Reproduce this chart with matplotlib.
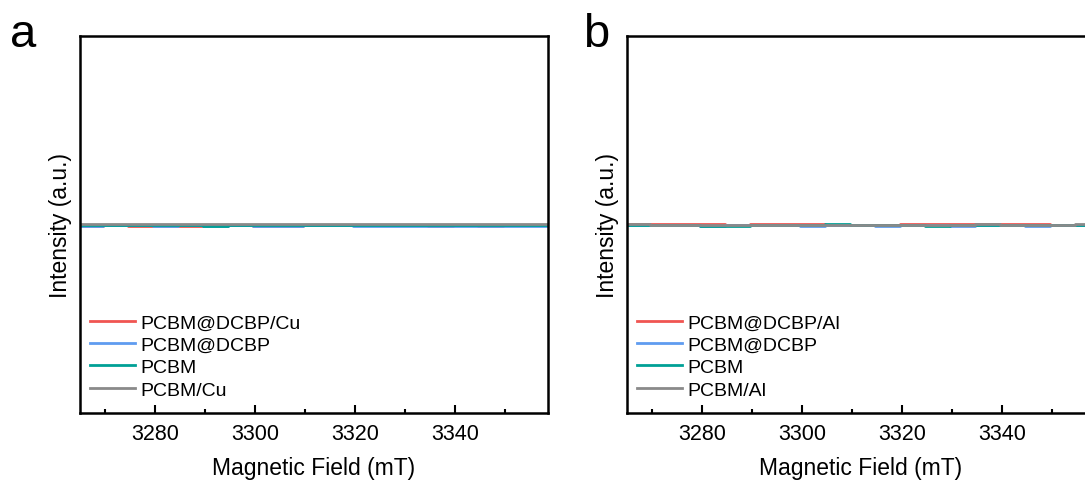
"""EPR spectra comparison, panels a and b."""

import matplotlib
import matplotlib.pyplot as plt
from matplotlib.ticker import MultipleLocator

matplotlib.use("Agg")

plt.rcParams["font.family"] = ["Liberation Sans", "DejaVu Sans"]

# ── Data ─────────────────────────────────────────────────────────────────────

FIELD = [3262, 3267, 3272, 3277, 3282, 3287, 3292, 3297, 3302, 3307,
         3312, 3317, 3322, 3327, 3332, 3337, 3342, 3347, 3352, 3357, 3362]

# panel a (Cu)
A_DCBP_CU = [-0.004, -0.006, -0.003, -0.008, -0.009, -0.006, -0.004, -0.002, -0.007, -0.010,
             -0.004, -0.003, -0.002, -0.004, -0.005, -0.006, -0.004, -0.008, -0.005, -0.004, -0.003]
A_DCBP = [-0.005, -0.007, -0.005, -0.004, -0.006, -0.005, -0.006, -0.004, -0.008, -0.006,
          -0.005, -0.004, -0.006, -0.008, -0.007, -0.006, -0.008, -0.007, -0.006, -0.008, -0.006]
A_PCBM = [-0.002, -0.003, -0.004, -0.003, -0.005, -0.004, -0.008, -0.005, -0.004, -0.003,
          -0.002, -0.001, -0.002, -0.003, -0.004, -0.005, -0.004, -0.003, -0.005, -0.003, -0.002]
A_PCBM_CU = [0.002, 0.003, 0.004, 0.003, 0.004, 0.003, 0.002, 0.001, 0.003, 0.002,
             0.001, 0.002, 0.003, 0.005, 0.004, 0.003, 0.001, 0.003, 0.002, 0.001, 0.000]

# panel b (Al)
B_DCBP_AL = [0.002, 0.003, 0.004, 0.003, 0.001, -0.002, 0.001, 0.004, 0.003, 0.000,
             -0.001, 0.000, 0.001, 0.002, 0.004, 0.005, 0.004, 0.002, 0.000, -0.001, 0.000]
B_DCBP = [-0.004, -0.005, -0.003, -0.004, -0.006, -0.005, -0.004, -0.003, -0.006, -0.004,
          -0.003, -0.006, -0.005, -0.004, -0.006, -0.004, -0.005, -0.006, -0.004, -0.005, -0.004]
B_PCBM = [-0.003, -0.002, -0.003, -0.004, -0.006, -0.007, -0.004, -0.003, -0.002, 0.001,
          -0.002, -0.003, -0.004, -0.006, -0.005, -0.004, -0.005, -0.003, -0.004, -0.003, -0.002]
B_PCBM_AL = [0.000, 0.001, 0.000, -0.001, -0.001, 0.000, 0.000, -0.001, -0.002, -0.003,
             0.000, -0.001, 0.000, -0.001, 0.000, 0.001, 0.000, -0.001, 0.000, 0.001, 0.000]

LABELS_A = ["PCBM@DCBP/Cu", "PCBM@DCBP", "PCBM", "PCBM/Cu"]
LABELS_B = ["PCBM@DCBP/Al", "PCBM@DCBP", "PCBM", "PCBM/Al"]
COLORS = ["#f05552", "#5f9cf0", "#00a096", "#8a8a8a"]

# ── Figure ───────────────────────────────────────────────────────────────────

fig = plt.figure(figsize=(10.85, 4.85), dpi=100)
W, H = 1085, 485
ax_a = fig.add_axes([80 / W, (H - 414) / H, 468 / W, 377 / H])
ax_b = fig.add_axes([627 / W, (H - 414) / H, 468 / W, 377 / H])

panels = [
    (ax_a, [A_DCBP_CU, A_DCBP, A_PCBM, A_PCBM_CU], LABELS_A, "a", 10),
    (ax_b, [B_DCBP_AL, B_DCBP, B_PCBM, B_PCBM_AL], LABELS_B, "b", 583),
]

for ax, series, labels, letter, lx in panels:
    for ys, lab, col in zip(series, labels, COLORS, strict=True):
        ax.plot(FIELD, ys, color=col, linewidth=2.0, label=lab, drawstyle="steps-mid")
    ax.set_xlim(3265, 3358.6)
    ax.set_ylim(-1, 1)
    ax.set_yticks([])
    ax.xaxis.set_major_locator(MultipleLocator(20))
    ax.xaxis.set_minor_locator(MultipleLocator(10))
    ax.tick_params(axis="x", which="major", direction="in", length=6, width=1.5,
                   labelsize=15.5, pad=7)
    ax.tick_params(axis="x", which="minor", direction="in", length=3, width=1.5)
    for sp in ax.spines.values():
        sp.set_linewidth(1.8)
    ax.set_xlabel("Magnetic Field (mT)", fontsize=16.5, labelpad=9)
    ax.set_ylabel("Intensity (a.u.)", fontsize=16.5, labelpad=6)
    ax.legend(loc="lower left", frameon=False, fontsize=14, handlelength=2.35,
              handletextpad=0.25, labelspacing=0.25, borderaxespad=0.3,
              borderpad=0.2, bbox_to_anchor=(0.0, 0.012))
    fig.text(lx / W, 1 - 35 / H, letter, fontsize=34, ha="left", va="center")

fig.savefig("out.png", dpi=100)
